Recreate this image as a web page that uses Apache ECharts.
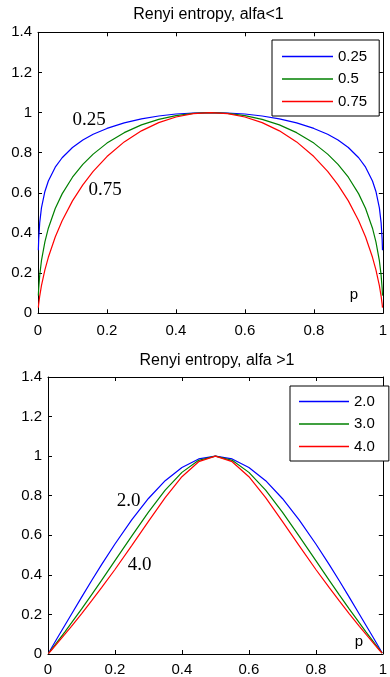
<!DOCTYPE html>
<html>
<head>
<meta charset="utf-8">
<script src="https://cdn.jsdelivr.net/npm/echarts@6/dist/echarts.min.js"></script>
<style>
  html, body { margin: 0; padding: 0; background: #fff; }
  #chart { width: 390px; height: 677px; }
</style>
</head>
<body>
<div id="chart"></div>
<script>
// probability p (x axis), shared by both panels
const pValues = [0.001, 0.002, 0.005, 0.01, 0.02, 0.03, 0.05, 0.07, 0.1, 0.13, 0.16, 0.2, 0.25, 0.3, 0.35, 0.4, 0.45, 0.5,
  0.55, 0.6, 0.65, 0.7, 0.75, 0.8, 0.84, 0.87, 0.9, 0.93, 0.95, 0.97, 0.98, 0.99, 0.995, 0.998, 0.999];

// top panel, alfa < 1
const alfa025 = [0.314, 0.368, 0.452, 0.525, 0.607, 0.659, 0.728, 0.775, 0.826, 0.863, 0.892, 0.921, 0.949, 0.969, 0.983, 0.993, 0.998, 1,
  0.998, 0.993, 0.983, 0.969, 0.949, 0.921, 0.892, 0.863, 0.826, 0.775, 0.728, 0.659, 0.607, 0.525, 0.452, 0.368, 0.314];
const alfa05 = [0.088, 0.124, 0.190, 0.262, 0.356, 0.424, 0.522, 0.595, 0.678, 0.742, 0.793, 0.848, 0.900, 0.939, 0.966, 0.985, 0.996, 1,
  0.996, 0.985, 0.966, 0.939, 0.900, 0.848, 0.793, 0.742, 0.678, 0.595, 0.522, 0.424, 0.356, 0.262, 0.190, 0.124, 0.088];
const alfa075 = [0.028, 0.046, 0.086, 0.138, 0.216, 0.279, 0.380, 0.461, 0.560, 0.640, 0.707, 0.781, 0.854, 0.909, 0.950, 0.978, 0.995, 1,
  0.995, 0.978, 0.950, 0.909, 0.854, 0.781, 0.707, 0.640, 0.560, 0.461, 0.380, 0.279, 0.216, 0.138, 0.086, 0.046, 0.028];

// bottom panel, alfa > 1
const alfa2 = [0.003, 0.006, 0.014, 0.029, 0.058, 0.087, 0.144, 0.201, 0.286, 0.370, 0.452, 0.556, 0.678, 0.786, 0.876, 0.943, 0.986, 1,
  0.986, 0.943, 0.876, 0.786, 0.678, 0.556, 0.452, 0.370, 0.286, 0.201, 0.144, 0.087, 0.058, 0.029, 0.014, 0.006, 0.003];
const alfa3 = [0.002, 0.004, 0.011, 0.022, 0.044, 0.066, 0.111, 0.157, 0.227, 0.299, 0.372, 0.472, 0.596, 0.717, 0.828, 0.918, 0.979, 1,
  0.979, 0.918, 0.828, 0.717, 0.596, 0.472, 0.372, 0.299, 0.227, 0.157, 0.111, 0.066, 0.044, 0.022, 0.011, 0.004, 0.002];
const alfa4 = [0.002, 0.004, 0.010, 0.019, 0.039, 0.059, 0.099, 0.140, 0.203, 0.268, 0.335, 0.427, 0.548, 0.670, 0.790, 0.896, 0.972, 1,
  0.972, 0.896, 0.790, 0.670, 0.548, 0.427, 0.335, 0.268, 0.203, 0.140, 0.099, 0.059, 0.039, 0.019, 0.010, 0.004, 0.002];

const legendTop = ['0.25', '0.5', '0.75'];
const legendBottom = ['2.0', '3.0', '4.0'];
const colors = ['#0000ff', '#008000', '#ff0000'];

const sans = 'Liberation Sans, Arial, sans-serif';
const serif = 'Liberation Serif, Times New Roman, serif';

const chart = echarts.init(document.getElementById('chart'));

function xAxisPair(gridIndex, labelMargin) {
  const base = {
    gridIndex: gridIndex,
    type: 'value',
    min: 0,
    max: 1,
    interval: 0.2,
    axisLine: { onZero: false, lineStyle: { color: '#000', width: 1 } },
    axisTick: { inside: true, length: 4, lineStyle: { color: '#000' } },
    splitLine: { show: false }
  };
  return [
    Object.assign({}, base, {
      position: 'bottom',
      axisLabel: { color: '#000', fontFamily: sans, fontSize: 15, margin: labelMargin }
    }),
    Object.assign({}, base, { position: 'top', axisLabel: { show: false } })
  ];
}

function yAxisPair(gridIndex) {
  const base = {
    gridIndex: gridIndex,
    type: 'value',
    min: 0,
    max: 1.4,
    interval: 0.2,
    axisLine: { show: true, onZero: false, lineStyle: { color: '#000', width: 1 } },
    axisTick: { show: true, inside: true, length: 4, lineStyle: { color: '#000' } },
    splitLine: { show: false }
  };
  return [
    Object.assign({}, base, {
      position: 'left',
      axisLabel: { color: '#000', fontFamily: sans, fontSize: 15, margin: 6 }
    }),
    Object.assign({}, base, { position: 'right', axisLabel: { show: false } })
  ];
}

function lineSeries(name, values, color, xIdx, yIdx) {
  return {
    name: name,
    type: 'line',
    xAxisIndex: xIdx,
    yAxisIndex: yIdx,
    symbol: 'none',
    smooth: false,
    lineStyle: { color: color, width: 1.2 },
    itemStyle: { color: color },
    data: pValues.map((p, i) => [p, values[i]])
  };
}

// legend keys are thin rects so they read as plain line samples
function legendBox(names, left, top, padding, itemWidth) {
  return {
    data: names,
    orient: 'vertical',
    left: left,
    top: top,
    padding: padding,
    icon: 'rect',
    itemWidth: itemWidth,
    itemHeight: 1.4,
    itemGap: 6.5,
    borderColor: '#000',
    borderWidth: 1,
    backgroundColor: '#fff',
    selectedMode: false,
    textStyle: { color: '#000', fontFamily: sans, fontSize: 15, lineHeight: 16 }
  };
}

function label(text, x, y, font) {
  return {
    type: 'text',
    style: { text: text, x: x, y: y, font: font, fill: '#000', align: 'center', verticalAlign: 'middle' }
  };
}

const option = {
  backgroundColor: '#fff',
  animation: false,
  grid: [
    { left: 38, top: 32.3, width: 348.5, height: 281 },
    { left: 48, top: 377, width: 341.5, height: 279.7 }
  ],
  xAxis: xAxisPair(0, 10).concat(xAxisPair(1, 8)),
  yAxis: yAxisPair(0).concat(yAxisPair(1)),
  legend: [
    legendBox(legendTop, 272, 40, [8.5, 12, 6.5, 10], 51),
    legendBox(legendBottom, 290, 386, [7.5, 14, 6.5, 9], 50)
  ],
  series: [
    lineSeries(legendTop[0], alfa025, colors[0], 0, 0),
    lineSeries(legendTop[1], alfa05, colors[1], 0, 0),
    lineSeries(legendTop[2], alfa075, colors[2], 0, 0),
    lineSeries(legendBottom[0], alfa2, colors[0], 2, 2),
    lineSeries(legendBottom[1], alfa3, colors[1], 2, 2),
    lineSeries(legendBottom[2], alfa4, colors[2], 2, 2)
  ],
  graphic: [
    label('Renyi entropy, alfa<1', 208.5, 15, '16px ' + sans),
    label('Renyi entropy, alfa >1', 217, 361, '16px ' + sans),
    label('0.25', 89, 120, '19px ' + serif),
    label('0.75', 105, 190, '19px ' + serif),
    label('2.0', 128.5, 501, '19px ' + serif),
    label('4.0', 139.5, 565, '19px ' + serif),
    label('p', 354, 295, '15px ' + sans),
    label('p', 359, 642, '15px ' + sans)
  ]
};

chart.setOption(option);
</script>
</body>
</html>
